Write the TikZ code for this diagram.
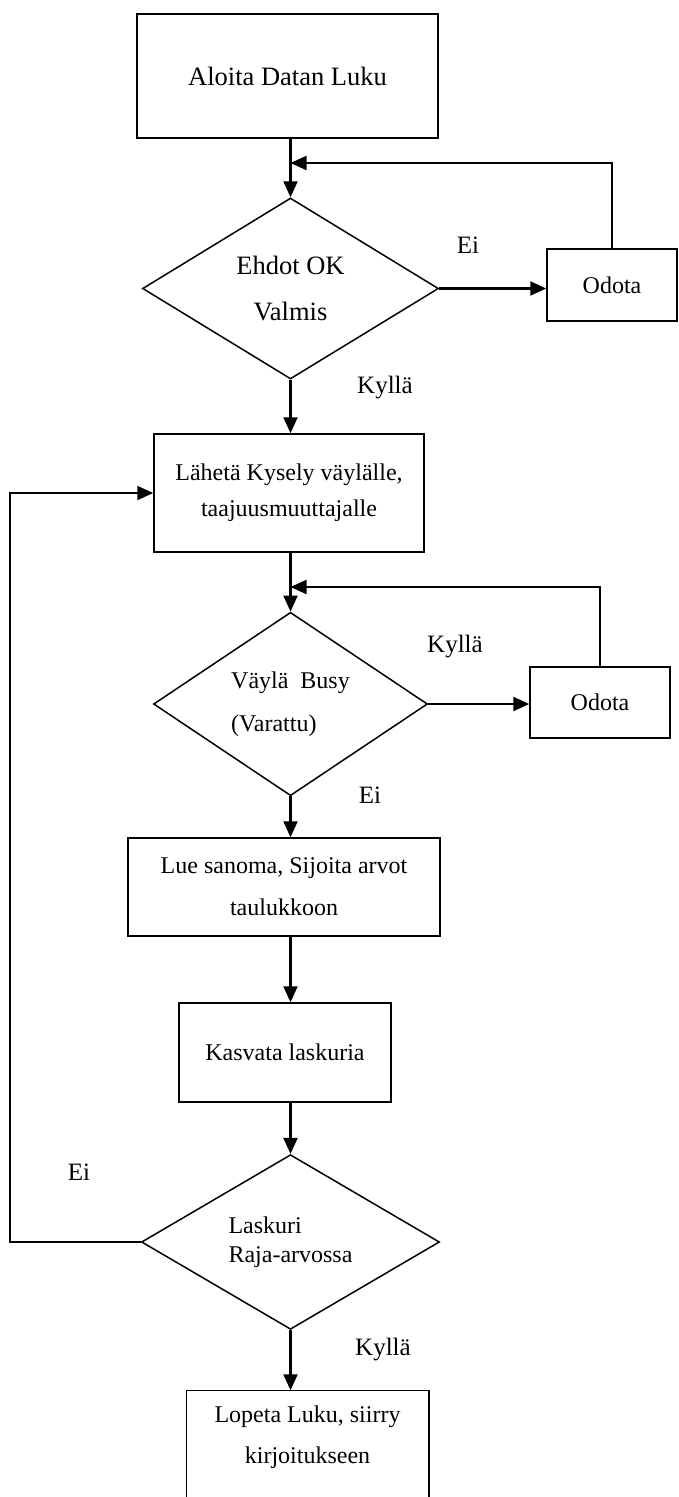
\documentclass[tikz,border=0pt]{standalone}
\usepackage{fontspec}
\setmainfont{Liberation Serif}
\usetikzlibrary{arrows.meta,shapes.geometric}

\begin{document}
\begin{tikzpicture}[x=1pt,y=-1pt,
  box/.style={draw,line width=1.5pt,inner sep=0pt,align=center,font=\fontsize{24}{41}\selectfont},
  dec/.style={draw,diamond,line width=1.5pt,inner sep=0pt,font=\fontsize{24}{43}\selectfont},
  arr/.style={-{Triangle[length=16pt,width=14pt]},line width=2.2pt},
  lbl/.style={font=\fontsize{25}{25}\selectfont}]
  \clip (0,0) rectangle (679,1497);
  % Start and first check
  \node[box,minimum width=301,minimum height=124,font=\fontsize{26.5}{47}\selectfont] (start) at (287.5,76) {Aloita Datan Luku};
  \node[dec,minimum width=296,minimum height=181,align=center,font=\fontsize{26.5}{47}\selectfont] (d1) at (290.5,288.5) {Ehdot OK\\Valmis};
  \node[box,minimum width=130,minimum height=72] (waitA) at (612,285) {Odota};
  % Query and bus check
  \node[box,minimum width=270,minimum height=118,font=\fontsize{24}{36}\selectfont] (send) at (289,493) {Lähetä Kysely väylälle,\\taajuusmuuttajalle};
  \node[dec,minimum width=274,minimum height=150,align=left] (d2) at (290.5,704) {Väylä\ \ Busy\\(Varattu)};
  \node[box,minimum width=140,minimum height=71] (waitB) at (600,702.5) {Odota};
  % Read, count, limit
  \node[box,minimum width=312,minimum height=98,font=\fontsize{24}{42}\selectfont] (read) at (284,887) {Lue sanoma, Sijoita arvot\\taulukkoon};
  \node[box,minimum width=212,minimum height=99] (count) at (285,1052.5) {Kasvata laskuria};
  \node[dec,minimum width=298,minimum height=154,align=left,font=\fontsize{24}{29}\selectfont] (d3) at (290.5,1242) {Laskuri\\Raja-arvossa};
  \node[box,draw=none,minimum width=241,minimum height=93] (finish) at (307.5,1437.5) {Lopeta Luku, siirry\\kirjoitukseen};
  \draw[line width=1.5pt] ([yshift=-40pt]finish.south west) -- (finish.north west) -- (finish.north east) -- ([yshift=-40pt]finish.south east);
  % Labels
  \node[lbl] (noA) at (468,245) {Ei};
  \node[lbl] (yesA) at (385,388) {Kyllä};
  \node[lbl] (yesB) at (455,647) {Kyllä};
  \node[lbl] (noB) at (370,795) {Ei};
  \node[lbl] (noC) at (79,1172) {Ei};
  \node[lbl] (yesC) at (383,1350) {Kyllä};
  % Connectors
  \coordinate (jA) at (290.5,163);
  \coordinate (jB) at (290.5,587);
  \coordinate (loopc) at (10,1242);
  \draw[arr] (start.south -| jA) -- (d1.north);
  \draw[arr] (waitA.north) |- (jA);
  \draw[arr] (d1.east) -- (d1.east -| waitA.west);
  \draw[arr] (d1.south) -- (d1.south |- send.north);
  \draw[arr] (send.south -| jB) -- (d2.north);
  \draw[arr] (waitB.north) |- (jB);
  \draw[arr] (d2.east) -- (d2.east -| waitB.west);
  \draw[arr] (d2.south) -- (d2.south |- read.north);
  \draw[arr] (read.south -| jB) -- (count.north -| jB);
  \draw[arr] (count.south -| jB) -- (d3.north);
  \draw[arr] (d3.south) -- (d3.south |- finish.north);
  \draw[arr,line width=1.8pt] (d3.west) -- (loopc) |- (send.west);
\end{tikzpicture}
\end{document}
